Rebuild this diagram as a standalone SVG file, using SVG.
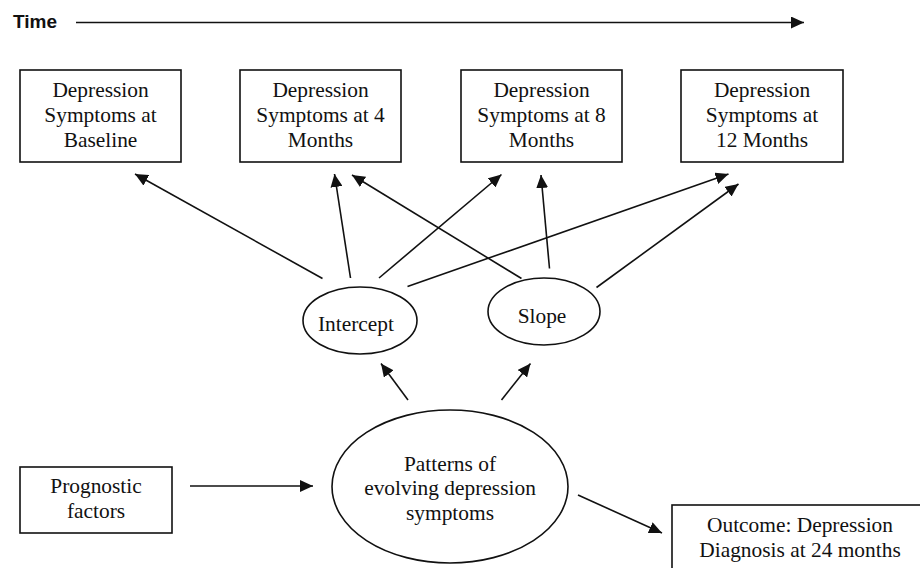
<svg xmlns="http://www.w3.org/2000/svg" width="920" height="568" viewBox="0 0 920 568">
  <style>
    .box { fill: #fff; stroke: #111; stroke-width: 1.6; }
    .ell { fill: #fff; stroke: #111; stroke-width: 1.6; }
    .t { font-family: 'Liberation Serif', 'Times New Roman', 'DejaVu Serif', serif; font-size: 21.4px; fill: #111; text-anchor: middle; }
    .conn line { stroke: #111; stroke-width: 1.6; marker-end: url(#ah); }
    .title { font-family: 'Liberation Sans', Arial, sans-serif; font-size: 19px; font-weight: bold; fill: #111; }
  </style>
  <defs>
    <marker id="ah" markerUnits="userSpaceOnUse" markerWidth="13" markerHeight="12" refX="13" refY="6" orient="auto">
      <path d="M0,0 L13,6 L0,12 z" fill="#111"/>
    </marker>
  </defs>
  <rect width="920" height="568" fill="#fff"/>

  <g id="time">
    <text class="title" x="13" y="28">Time</text>
  </g>

  <g id="box-baseline">
    <rect class="box" x="20" y="70" width="161" height="92"/>
    <text class="t" x="100.5" y="97">Depression</text>
    <text class="t" x="100.5" y="121.5">Symptoms at</text>
    <text class="t" x="100.5" y="146.5">Baseline</text>
  </g>
  <g id="box-4m">
    <rect class="box" x="240" y="70" width="161" height="92"/>
    <text class="t" x="320.5" y="97">Depression</text>
    <text class="t" x="320.5" y="121.5">Symptoms at 4</text>
    <text class="t" x="320.5" y="146.5">Months</text>
  </g>
  <g id="box-8m">
    <rect class="box" x="461" y="70" width="161" height="92"/>
    <text class="t" x="541.5" y="97">Depression</text>
    <text class="t" x="541.5" y="121.5">Symptoms at 8</text>
    <text class="t" x="541.5" y="146.5">Months</text>
  </g>
  <g id="box-12m">
    <rect class="box" x="681" y="70" width="162" height="92"/>
    <text class="t" x="762" y="97">Depression</text>
    <text class="t" x="762" y="121.5">Symptoms at</text>
    <text class="t" x="762" y="146.5">12 Months</text>
  </g>

  <g id="intercept">
    <ellipse class="ell" cx="360" cy="320.5" rx="57" ry="33.5"/>
    <text class="t" x="356" y="331">Intercept</text>
  </g>
  <g id="slope">
    <ellipse class="ell" cx="544" cy="311.5" rx="56" ry="33.5"/>
    <text class="t" x="542" y="323">Slope</text>
  </g>

  <g id="patterns">
    <ellipse class="ell" cx="450" cy="486.5" rx="118" ry="76.5"/>
    <text class="t" x="450" y="470.5">Patterns of</text>
    <text class="t" x="450" y="495">evolving depression</text>
    <text class="t" x="450" y="519.5">symptoms</text>
  </g>

  <g id="prognostic">
    <rect class="box" x="20" y="467" width="152" height="66"/>
    <text class="t" x="96" y="493">Prognostic</text>
    <text class="t" x="96" y="518">factors</text>
  </g>

  <g id="outcome">
    <rect class="box" x="672" y="505" width="270" height="90"/>
    <text class="t" x="800" y="532">Outcome: Depression</text>
    <text class="t" x="800" y="557">Diagnosis at 24 months</text>
  </g>

  <g id="connectors" class="conn">
    <line x1="76" y1="22.5" x2="804" y2="22.5"/>
    <line x1="322.5" y1="278.5" x2="135" y2="174"/>
    <line x1="350.5" y1="278" x2="334.5" y2="174"/>
    <line x1="379" y1="278" x2="501.5" y2="174.5"/>
    <line x1="407.5" y1="286.5" x2="728.5" y2="174"/>
    <line x1="521.5" y1="278.5" x2="352" y2="175"/>
    <line x1="549.5" y1="268.5" x2="541" y2="175"/>
    <line x1="596.5" y1="287.5" x2="738.5" y2="184"/>
    <line x1="408" y1="400" x2="381" y2="363.5"/>
    <line x1="501.5" y1="400" x2="530.5" y2="363.5"/>
    <line x1="190" y1="486" x2="313" y2="486"/>
    <line x1="578" y1="495" x2="662" y2="533"/>
  </g>
</svg>
